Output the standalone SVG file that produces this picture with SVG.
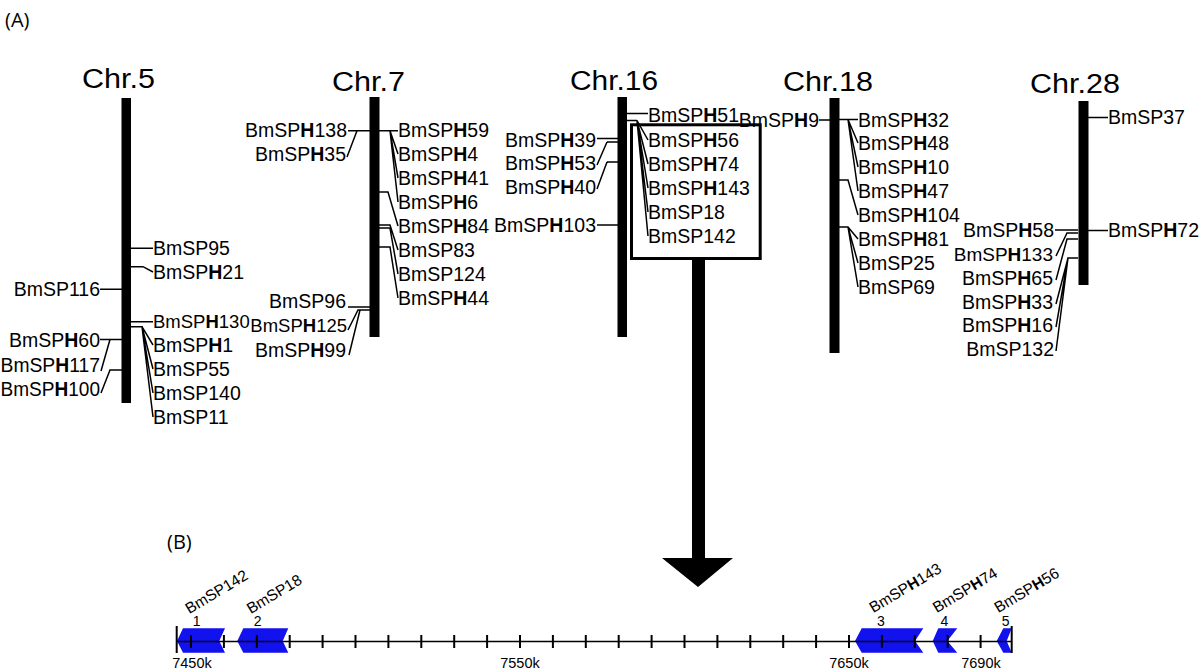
<svg xmlns="http://www.w3.org/2000/svg" width="1200" height="670" viewBox="0 0 1200 670">
<style>
.bar{fill:#000}
.ttl{font-family:"Liberation Sans",Arial,sans-serif;font-size:27px;fill:#000;text-anchor:middle}
.l{font-family:"Liberation Sans",Arial,sans-serif;font-size:19.5px;fill:#000}
.s{font-size:18.5px}
.r{text-anchor:start}
.e{text-anchor:end}
.b{font-weight:bold}
.ln{stroke:#000;stroke-width:1.5;fill:none}
.pan{font-family:"Open Sans","Liberation Sans",sans-serif;font-size:20px;fill:#000}
.ax{font-family:"Liberation Sans",Arial,sans-serif;font-size:14.5px;fill:#000;text-anchor:middle}
.gn{font-family:"Liberation Sans",Arial,sans-serif;font-size:15.5px;fill:#000}
.num{font-family:"Liberation Sans",Arial,sans-serif;font-size:14px;fill:#000;text-anchor:middle}
.gene{fill:#1212ee}
.tk{stroke:#000;stroke-width:2}
</style>
<rect width="1200" height="670" fill="#fff"/>
<text class="pan" x="5" y="27">(A)</text>

<g id="chr5">
<rect class="bar" x="121.5" y="98" width="9.5" height="305"/>
<text class="ttl" x="118.5" y="88" textLength="73" lengthAdjust="spacingAndGlyphs">Chr.5</text>
<text class="l r" x="153" y="255">BmSP95</text>
<text class="l r" x="153" y="279">BmSP<tspan class="b">H</tspan>21</text>
<text class="l e" x="100" y="296">BmSP116</text>
<text class="l s r" x="153" y="328">BmSP<tspan class="b">H</tspan>130</text>
<text class="l r" x="153" y="352">BmSP<tspan class="b">H</tspan>1</text>
<text class="l r" x="153" y="376">BmSP55</text>
<text class="l r" x="153" y="400">BmSP140</text>
<text class="l r" x="153" y="424">BmSP11</text>
<text class="l e" x="100" y="347">BmSP<tspan class="b">H</tspan>60</text>
<text class="l r" x="0.5" y="372" textLength="99.5" lengthAdjust="spacingAndGlyphs">BmSP<tspan class="b">H</tspan>117</text>
<text class="l r" x="0.5" y="396" textLength="99.5" lengthAdjust="spacingAndGlyphs">BmSP<tspan class="b">H</tspan>100</text>
</g>

<g id="chr7">
<rect class="bar" x="369.5" y="97" width="10" height="240"/>
<text class="ttl" x="368.5" y="91" textLength="73" lengthAdjust="spacingAndGlyphs">Chr.7</text>
<text class="l e" x="347" y="137">BmSP<tspan class="b">H</tspan>138</text>
<text class="l e" x="346" y="161">BmSP<tspan class="b">H</tspan>35</text>
<text class="l e" x="346" y="308">BmSP96</text>
<text class="l s e" x="347" y="332">BmSP<tspan class="b">H</tspan>125</text>
<text class="l e" x="346" y="357">BmSP<tspan class="b">H</tspan>99</text>
<text class="l r" x="398" y="137">BmSP<tspan class="b">H</tspan>59</text>
<text class="l r" x="398" y="161">BmSP<tspan class="b">H</tspan>4</text>
<text class="l r" x="398" y="185">BmSP<tspan class="b">H</tspan>41</text>
<text class="l r" x="398" y="209">BmSP<tspan class="b">H</tspan>6</text>
<text class="l r" x="398" y="233">BmSP<tspan class="b">H</tspan>84</text>
<text class="l r" x="398" y="257">BmSP83</text>
<text class="l r" x="398" y="281">BmSP124</text>
<text class="l r" x="398" y="305">BmSP<tspan class="b">H</tspan>44</text>
</g>

<g id="chr16">
<rect class="bar" x="617.5" y="97" width="9.5" height="240"/>
<text class="ttl" x="614" y="90" textLength="88" lengthAdjust="spacingAndGlyphs">Chr.16</text>
<text class="l e" x="596" y="147">BmSP<tspan class="b">H</tspan>39</text>
<text class="l e" x="596" y="170">BmSP<tspan class="b">H</tspan>53</text>
<text class="l e" x="596" y="194">BmSP<tspan class="b">H</tspan>40</text>
<text class="l e" x="596" y="232">BmSP<tspan class="b">H</tspan>103</text>
<text class="l r" x="648" y="122">BmSP<tspan class="b">H</tspan>51</text>
<text class="l r" x="648" y="147">BmSP<tspan class="b">H</tspan>56</text>
<text class="l r" x="648" y="171">BmSP<tspan class="b">H</tspan>74</text>
<text class="l r" x="648" y="195">BmSP<tspan class="b">H</tspan>143</text>
<text class="l r" x="648" y="219">BmSP18</text>
<text class="l r" x="648" y="243">BmSP142</text>
</g>

<g id="chr18">
<rect class="bar" x="829.5" y="98" width="10" height="255"/>
<text class="ttl" x="828" y="91" textLength="90" lengthAdjust="spacingAndGlyphs">Chr.18</text>
<text class="l e" x="819" y="127">BmSP<tspan class="b">H</tspan>9</text>
<text class="l r" x="858" y="127">BmSP<tspan class="b">H</tspan>32</text>
<text class="l r" x="858" y="150">BmSP<tspan class="b">H</tspan>48</text>
<text class="l r" x="858" y="174">BmSP<tspan class="b">H</tspan>10</text>
<text class="l r" x="858" y="198">BmSP<tspan class="b">H</tspan>47</text>
<text class="l r" x="858" y="222">BmSP<tspan class="b">H</tspan>104</text>
<text class="l r" x="858" y="246">BmSP<tspan class="b">H</tspan>81</text>
<text class="l r" x="858" y="270">BmSP25</text>
<text class="l r" x="858" y="294">BmSP69</text>
</g>

<g id="chr28">
<rect class="bar" x="1078.5" y="101" width="10" height="184"/>
<text class="ttl" x="1075" y="93" textLength="90" lengthAdjust="spacingAndGlyphs">Chr.28</text>
<text class="l r" x="1108" y="124">BmSP37</text>
<text class="l r" x="1108" y="237">BmSP<tspan class="b">H</tspan>72</text>
<text class="l e" x="1054" y="237">BmSP<tspan class="b">H</tspan>58</text>
<text class="l e" x="1053" y="261" style="font-size:19px">BmSP<tspan class="b">H</tspan>133</text>
<text class="l e" x="1053" y="285">BmSP<tspan class="b">H</tspan>65</text>
<text class="l e" x="1053" y="309">BmSP<tspan class="b">H</tspan>33</text>
<text class="l e" x="1053" y="332">BmSP<tspan class="b">H</tspan>16</text>
<text class="l e" x="1054" y="356">BmSP132</text>
</g>

<g id="connectors" class="ln">
<path d="M131 248.3H153 M131 266.7H143L153 272 M100 289.3H122 M131 321.7H153 M131 326.7H142L153 345 M142 326.7L153 369 M142 326.7L153 393 M142 326.7L153 417 M100 339.5H122 M110 339.5L101 371 M122 370H110L101 393"/>
<path d="M348 130.7H370 M357 130.7L347 157 M379 130.7H398 M390 130.7L398 154 M390 130.7L398 178 M390 130.7L398 202 M379 192H388L398 226 M379 225H390L398 250 M379 228H390L398 274 M379 247H390L398 298 M348 307H370 M370 310H358L348 330 M360 310L349 355"/>
<path d="M597 138.5H618 M607 142H618 M597 165L607 142 M607 162H618 M597 189L607 162 M597 225H618 M627 113.5H648 M627 120.5H637 M637 120.5L648 140 M637 120.5L648 164 M637 120.5L648 188 M637 120.5L648 212 M637 120.5L648 236"/>
<path d="M819 120H830 M839 119.5H858 M848 119.5L858 143 M848 119.5L858 167 M848 119.5L858 191 M839 180H848L858 215 M839 227H848L858 239 M848 227L858 263 M848 227L858 287"/>
<path d="M1088 117.5H1108 M1088 230.5H1108 M1055 230H1078 M1078 233H1067L1056 256 M1078 239H1067L1056 280 M1078 258H1068L1056 304 M1068 258L1056 327 M1068 258L1056 351"/>
</g>

<g id="zoombox">
<rect x="631.5" y="124.8" width="128.7" height="133.7" fill="none" stroke="#000" stroke-width="3"/>
<path d="M692 260H705V558H733L698 587L662 558H692Z" fill="#000"/>
</g>

<g id="panelB">
<text class="pan" x="167" y="549">(B)</text>
<polygon class="gene" points="177,641 183,628.3 225,628.3 219.3,641 225,652.7 183,652.7"/>
<polygon class="gene" points="237.3,641 243.3,628.3 288.3,628.3 282.7,641 288.3,652.7 243.3,652.7"/>
<polygon class="gene" points="855,641 861.7,628.3 923.3,628.3 915,641 923.3,652.7 861.7,652.7"/>
<polygon class="gene" points="932.7,641 938.3,628.3 957.3,628.3 947.3,641 957.3,652.7 938.3,652.7"/>
<polygon class="gene" points="996.7,641 1003.3,628.3 1011.7,628.3 1006.7,641 1011.7,652.7 1003.3,652.7"/>
<line x1="176.5" y1="641.5" x2="1011.7" y2="641.5" stroke="#000" stroke-width="1.5"/>
<path class="tk" d="M176.7 626V653 M1011.7 626V653 M191 635V648 M223.9 635V648 M256.8 635V648 M289.7 635V648 M322.6 635V648 M355.5 635V648 M388.4 635V648 M421.3 635V648 M454.2 635V648 M487.1 635V648 M520 635V648 M552.9 635V648 M585.8 635V648 M618.7 635V648 M651.6 635V648 M684.5 635V648 M717.4 635V648 M750.3 635V648 M783.2 635V648 M816.1 635V648 M849 635V648 M881.9 635V648 M914.8 635V648 M947.7 635V648 M980.6 635V648"/>
<text class="num" x="196.7" y="626">1</text>
<text class="num" x="257.7" y="626">2</text>
<text class="num" x="881" y="626">3</text>
<text class="num" x="944.3" y="626">4</text>
<text class="num" x="1005.7" y="626">5</text>
<text class="gn" x="189.3" y="614.3" transform="rotate(-31 189.3 614.3)">BmSP142</text>
<text class="gn" x="250.7" y="614.3" transform="rotate(-31 250.7 614.3)">BmSP18</text>
<text class="gn" x="873.3" y="613.3" transform="rotate(-31 873.3 613.3)">BmSP<tspan class="b">H</tspan>143</text>
<text class="gn" x="936.7" y="613.3" transform="rotate(-31 936.7 613.3)">BmSP<tspan class="b">H</tspan>74</text>
<text class="gn" x="998.3" y="613.3" transform="rotate(-31 998.3 613.3)">BmSP<tspan class="b">H</tspan>56</text>
<text class="ax" x="192" y="668">7450k</text>
<text class="ax" x="520" y="668">7550k</text>
<text class="ax" x="849" y="668">7650k</text>
<text class="ax" x="981" y="668">7690k</text>
</g>
</svg>
